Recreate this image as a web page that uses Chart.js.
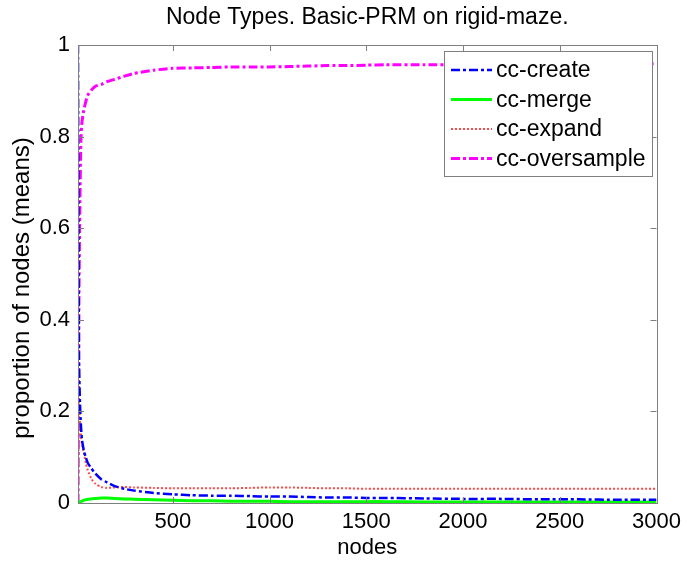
<!DOCTYPE html>
<html>
<head>
<meta charset="utf-8">
<script src="https://cdn.jsdelivr.net/npm/chart.js@4.4.0/dist/chart.umd.min.js"></script>
<style>
  html, body { margin: 0; padding: 0; background: #fff; }
  #wrap { width: 687px; height: 561px; }
</style>
</head>
<body>
<div id="wrap"><canvas id="chart" width="687" height="561"></canvas></div>
<script>
// node counts where the means were sampled
const nodes = [10, 15, 20, 25, 30, 40, 50, 60, 80, 100, 130, 160, 200, 250, 300, 400, 500, 600, 700, 800, 900,
  1000, 1100, 1200, 1300, 1400, 1500, 1600, 1800, 2000, 2200, 2400, 2600, 2800, 3000];

const ccCreate = [1.0, 0.32, 0.22, 0.17, 0.14, 0.115, 0.1, 0.088, 0.075, 0.064, 0.052, 0.045, 0.037, 0.031, 0.027, 0.022, 0.019, 0.017, 0.016, 0.016, 0.015,
  0.014, 0.014, 0.013, 0.012, 0.012, 0.011, 0.011, 0.01, 0.009, 0.009, 0.008, 0.008, 0.007, 0.007];

const ccMerge = [0, 0, 0.002, 0.003, 0.004, 0.006, 0.007, 0.008, 0.009, 0.01, 0.011, 0.011, 0.01, 0.009, 0.008, 0.007, 0.006, 0.005, 0.005, 0.004, 0.004,
  0.004, 0.003, 0.003, 0.003, 0.003, 0.003, 0.003, 0.002, 0.002, 0.002, 0.002, 0.002, 0.002, 0.002];

const ccExpand = [0, 0.22, 0.18, 0.15, 0.13, 0.11, 0.088, 0.072, 0.052, 0.042, 0.035, 0.033, 0.034, 0.035, 0.034, 0.033, 0.032, 0.032, 0.032, 0.032, 0.033,
  0.034, 0.034, 0.033, 0.032, 0.032, 0.031, 0.031, 0.031, 0.031, 0.031, 0.031, 0.031, 0.031, 0.031];

const ccOversample = [0, 0.45, 0.66, 0.79, 0.83, 0.858, 0.876, 0.89, 0.902, 0.91, 0.914, 0.92, 0.925, 0.932, 0.938, 0.945, 0.949, 0.95, 0.951, 0.952, 0.952,
  0.952, 0.953, 0.954, 0.955, 0.955, 0.956, 0.957, 0.957, 0.957, 0.958, 0.958, 0.958, 0.958, 0.959];

const xTicks = [500, 1000, 1500, 2000, 2500, 3000];
const yTicks = [0, 0.2, 0.4, 0.6, 0.8, 1];

const chartTitle = 'Node Types. Basic-PRM on rigid-maze.';
const yLabel = 'proportion of nodes (means)';

const FONT = "'Liberation Sans', Arial, Helvetica, sans-serif";
const AXIS_GRAY = '#7f7f7f';

function pts(ys) {
  return nodes.map((x, i) => ({ x: x, y: ys[i] }));
}

// matlab style box with ticks pointing inwards on all four sides
const boxTicks = {
  id: 'boxTicks',
  afterDraw(chart) {
    const ctx = chart.ctx;
    const a = chart.chartArea;
    const xs = chart.scales.x, ys = chart.scales.y;
    const len = 6;
    ctx.save();
    ctx.strokeStyle = AXIS_GRAY;
    ctx.lineWidth = 1;
    ctx.beginPath();
    xTicks.forEach(v => {
      const px = Math.round(xs.getPixelForValue(v)) + 0.5;
      ctx.moveTo(px, a.bottom); ctx.lineTo(px, a.bottom - len);
      ctx.moveTo(px, a.top); ctx.lineTo(px, a.top + len);
    });
    yTicks.forEach(v => {
      const py = Math.round(ys.getPixelForValue(v)) + 0.5;
      ctx.moveTo(a.left, py); ctx.lineTo(a.left + len, py);
      ctx.moveTo(a.right, py); ctx.lineTo(a.right - len, py);
    });
    ctx.stroke();
    ctx.strokeRect(Math.round(a.left) + 0.5, Math.round(a.top) + 0.5,
      Math.round(a.right - a.left), Math.round(a.bottom - a.top));
    ctx.restore();
  }
};

// title over the plot box and the rotated y label
const labels = {
  id: 'labels',
  afterDraw(chart) {
    const ctx = chart.ctx;
    const a = chart.chartArea;
    ctx.save();
    ctx.fillStyle = '#000';
    ctx.textAlign = 'center';
    ctx.textBaseline = 'middle';
    ctx.font = '23px ' + FONT;
    ctx.fillText(chartTitle, (a.left + a.right) / 2, 18);
    ctx.translate(22, 288);
    ctx.rotate(-Math.PI / 2);
    ctx.font = '24px ' + FONT;
    ctx.fillText(yLabel, 0, 0);
    ctx.restore();
  }
};

// legend box in the upper right corner, drawn from the dataset styles
const boxLegend = {
  id: 'boxLegend',
  afterDraw(chart) {
    const ctx = chart.ctx;
    const left = 444, top = 51, w = 208, h = 125;
    ctx.save();
    ctx.fillStyle = '#fff';
    ctx.fillRect(left, top, w, h);
    ctx.strokeStyle = AXIS_GRAY;
    ctx.lineWidth = 1;
    ctx.strokeRect(left + 0.5, top + 0.5, w, h);
    chart.data.datasets.forEach((ds, i) => {
      const y = top + 19 + i * 29.5;
      ctx.strokeStyle = ds.borderColor;
      ctx.lineWidth = ds.borderWidth;
      ctx.setLineDash(ds.borderDash || []);
      ctx.beginPath();
      ctx.moveTo(451, y);
      ctx.lineTo(492, y);
      ctx.stroke();
      ctx.setLineDash([]);
      ctx.fillStyle = '#000';
      ctx.font = '23px ' + FONT;
      ctx.textBaseline = 'middle';
      ctx.textAlign = 'left';
      ctx.fillText(ds.label, 496, y + 1);
    });
    ctx.restore();
  }
};

const ctx = document.getElementById('chart').getContext('2d');
new Chart(ctx, {
  type: 'line',
  data: {
    datasets: [
      {
        label: 'cc-create',
        data: pts(ccCreate),
        borderColor: '#0000ff',
        borderWidth: 2.5,
        borderDash: [9, 3, 3, 3]
      },
      {
        label: 'cc-merge',
        data: pts(ccMerge),
        borderColor: '#00ff00',
        borderWidth: 3
      },
      {
        label: 'cc-expand',
        data: pts(ccExpand),
        borderColor: '#ff4848',
        borderWidth: 2,
        borderDash: [2, 2]
      },
      {
        label: 'cc-oversample',
        data: pts(ccOversample),
        borderColor: '#ff00ff',
        borderWidth: 3,
        borderDash: [9, 3, 3, 3]
      }
    ]
  },
  options: {
    responsive: false,
    animation: false,
    layout: { padding: { top: 45, right: 28, bottom: 0, left: 0 } },
    elements: {
      point: { radius: 0 },
      line: { tension: 0.2, fill: false }
    },
    plugins: {
      legend: { display: false },
      tooltip: { enabled: false },
      title: { display: false }
    },
    scales: {
      x: {
        type: 'linear',
        min: 10,
        max: 3000,
        afterBuildTicks: axis => { axis.ticks = xTicks.map(v => ({ value: v })); },
        afterFit: axis => { axis.height = 58; },
        grid: { display: false, drawTicks: false },
        border: { display: false },
        ticks: {
          color: '#000',
          padding: 6,
          maxRotation: 0,
          autoSkip: false,
          font: { family: FONT, size: 22 },
          callback: v => String(v)
        },
        title: {
          display: true,
          text: 'nodes',
          color: '#000',
          padding: { top: 1, bottom: 0 },
          font: { family: FONT, size: 22 }
        }
      },
      y: {
        type: 'linear',
        min: 0,
        max: 1,
        afterBuildTicks: axis => { axis.ticks = yTicks.map(v => ({ value: v })); },
        afterFit: axis => { axis.width = 78; },
        grid: { display: false, drawTicks: false },
        border: { display: false },
        ticks: {
          color: '#000',
          padding: 8,
          autoSkip: false,
          font: { family: FONT, size: 22 },
          callback: v => String(v)
        }
      }
    }
  },
  plugins: [boxTicks, labels, boxLegend]
});
</script>
</body>
</html>
